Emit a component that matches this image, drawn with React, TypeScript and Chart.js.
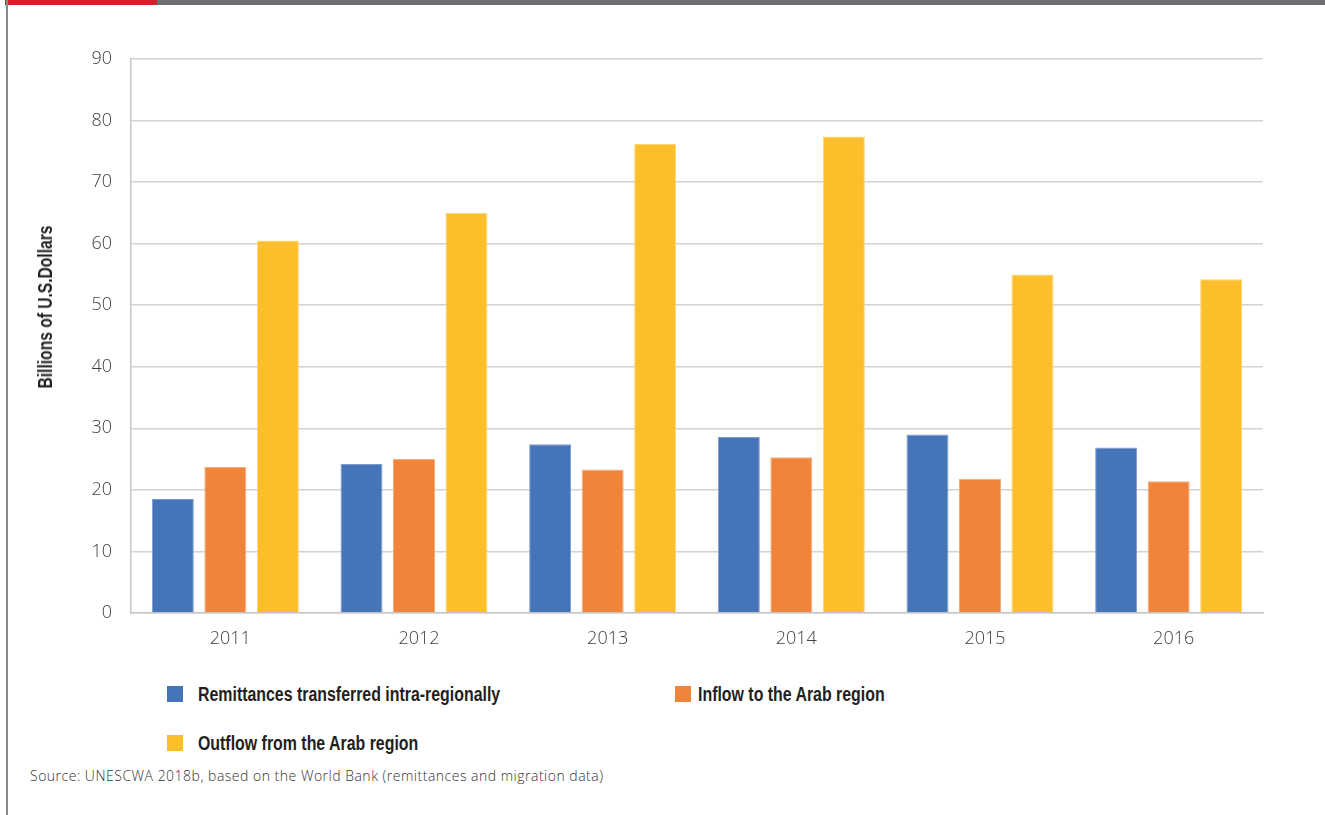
import React, { useEffect, useRef } from "react";
import { Chart, registerables } from "chart.js";

Chart.register(...registerables);

const years = ["2011", "2012", "2013", "2014", "2015", "2016"];
const intraRegional = [18.5, 24.2, 27.4, 28.6, 29.0, 26.9];
const inflowArab = [23.7, 25.0, 23.3, 25.3, 21.8, 21.4];
const outflowArab = [60.5, 65.0, 76.2, 77.4, 55.0, 54.2];
const yTicks = [0, 10, 20, 30, 40, 50, 60, 70, 80, 90];
const yTitle = "Billions of U.S.Dollars";
const sourceNote = "Source: UNESCWA 2018b, based on the World Bank (remittances and migration data)";

const seriesNames = [
  "Remittances transferred intra-regionally",
  "Inflow to the Arab region",
  "Outflow from the Arab region",
];
const seriesColors = ["#4674b9", "#f0843b", "#fdbe2c"];
const seriesBorders = ["#7e9ccc", "#f5ab7c", "#fed57a"];
const seriesValues = [intraRegional, inflowArab, outflowArab];

const heavy = "'Liberation Sans', Arial, sans-serif";
const light = "'Open Sans', 'Lato', sans-serif";

export default function App() {
  const canvasRef = useRef<HTMLCanvasElement | null>(null);

  useEffect(() => {
    document.body.style.margin = "0";
    const canvas = canvasRef.current;
    if (!canvas) return;
    const chart = new Chart(canvas, {
      type: "bar",
      data: {
        labels: years,
        datasets: seriesValues.map((vals, i) => ({
          label: seriesNames[i],
          data: vals,
          backgroundColor: seriesColors[i],
          borderColor: seriesBorders[i],
          borderWidth: 1,
          categoryPercentage: 0.835,
          barPercentage: 0.8,
        })),
      },
      options: {
        animation: false,
        responsive: false,
        maintainAspectRatio: false,
        layout: { padding: { left: 20, top: 59, right: 62, bottom: 0 } },
        plugins: {
          legend: { display: false },
          tooltip: { enabled: false },
        },
        scales: {
          x: {
            grid: { display: false },
            border: { display: true, color: "#c8c8c8", width: 1.5 },
            ticks: {
              color: "#404040",
              font: { family: light, size: 18, weight: 300 },
              padding: 7,
              labelOffset: 5,
            },
            afterFit: (scale: any) => {
              scale.height = 47;
            },
          },
          y: {
            min: 0,
            max: 90,
            afterBuildTicks: (scale: any) => {
              scale.ticks = yTicks.map((v) => ({ value: v }));
            },
            grid: { color: "#d2d2d2", lineWidth: 1.5, drawTicks: false },
            border: { display: true, color: "#c8c8c8", width: 1.5 },
            ticks: {
              color: "#404040",
              font: { family: light, size: 18, weight: 300 },
              padding: 19,
            },
            title: { display: false },
            afterFit: (scale: any) => {
              scale.width = 111;
            },
          },
        },
      },
    });
    return () => chart.destroy();
  }, []);

  const legendItem = (i: number, left: number, top: number, textLeft: number) => (
    <React.Fragment key={i}>
      <div style={{ position: "absolute", left, top, width: 16, height: 16, background: seriesColors[i] }} />
      <div
        style={{
          position: "absolute",
          left: textLeft,
          top: top - 4,
          fontFamily: heavy,
          fontWeight: "bold",
          fontSize: 20,
          lineHeight: "24px",
          color: "#231f20",
          whiteSpace: "nowrap",
          transform: "scaleX(0.795)",
          transformOrigin: "0 50%",
        }}
      >
        {seriesNames[i]}
      </div>
    </React.Fragment>
  );

  return (
    <div style={{ position: "relative", width: 1325, height: 815, background: "#fff", overflow: "hidden" }}>
      <div style={{ position: "absolute", left: 5, top: 0, width: 152, height: 5, background: "#cc2229" }} />
      <div style={{ position: "absolute", left: 157, top: 0, width: 1168, height: 5, background: "#6d6e71" }} />
      <div style={{ position: "absolute", left: 6, top: 0, width: 2, height: 815, background: "#8a8a8a" }} />
      <canvas
        ref={canvasRef}
        width={1325}
        height={660}
        style={{ position: "absolute", left: 0, top: 0, width: 1325, height: 660 }}
      />
      <div
        style={{
          position: "absolute",
          left: 45,
          top: 307,
          fontFamily: heavy,
          fontWeight: "bold",
          fontSize: 20,
          lineHeight: "24px",
          color: "#231f20",
          whiteSpace: "nowrap",
          transform: "translate(-50%, -50%) rotate(-90deg) scaleX(0.78)",
        }}
      >
        {yTitle}
      </div>
      {legendItem(0, 167, 686, 198)}
      {legendItem(1, 675, 686, 698)}
      {legendItem(2, 167, 735, 198)}
      <div
        style={{
          position: "absolute",
          left: 30,
          top: 766,
          fontFamily: light,
          fontWeight: 300,
          fontSize: 14,
          letterSpacing: "0.5px",
          color: "#333",
          whiteSpace: "nowrap",
        }}
      >
        {sourceNote}
      </div>
    </div>
  );
}
